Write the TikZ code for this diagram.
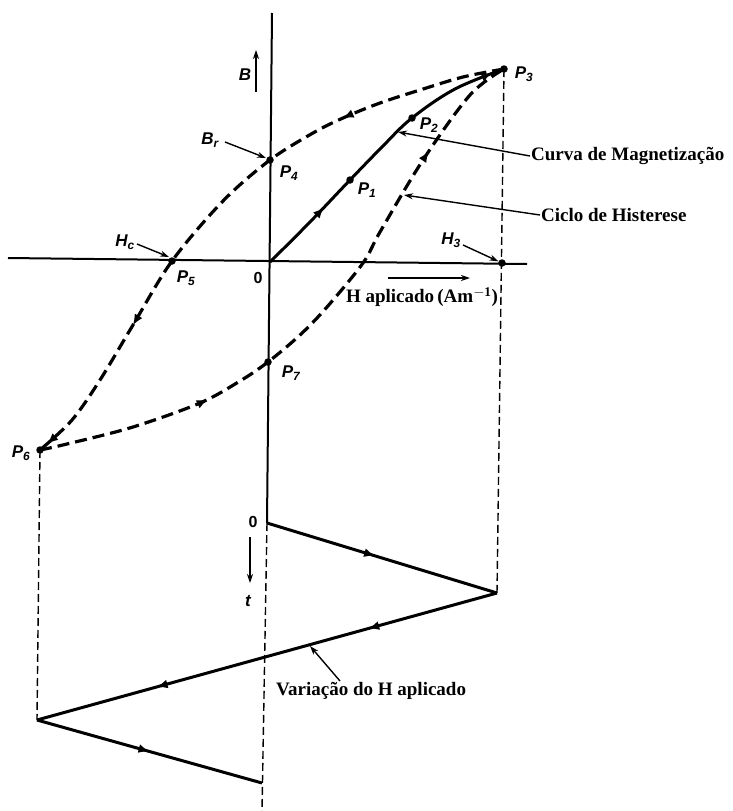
\documentclass[tikz,border=0pt]{standalone}
\usepackage{fontspec}
\setmainfont{Liberation Serif}
\newfontfamily\labfont{Liberation Sans}
\usetikzlibrary{decorations.markings,arrows.meta}
\begin{document}
\begin{tikzpicture}[x=1pt,y=-1pt,
 loopline/.style={line width=3.2pt, dash pattern=on 12pt off 6pt},
 solidc/.style={line width=3pt},
 guide/.style={line width=1.4pt, dash pattern=on 8pt off 4pt},
 axisline/.style={line width=2pt},
 thinarrow/.style={line width=1.4pt,-{Stealth[length=9pt,width=6pt]}},
 dot/.style={circle,fill,inner sep=0pt,minimum size=7.5pt},
 plab/.style={font=\labfont\bfseries\itshape\fontsize{17}{17}\selectfont, inner sep=1pt},
 zero/.style={font=\labfont\bfseries\fontsize{16}{16}\selectfont, inner sep=1pt},
 txt/.style={font=\bfseries\fontsize{19}{19}\selectfont, inner sep=1pt},
 midarrow/.style={postaction={decorate,decoration={markings,mark=at position #1 with {\arrow{Latex[length=11pt,width=9pt]}}}}},
]
\useasboundingbox (0,0) rectangle (732,811);
% key points
\coordinate (O) at (270,262);
\coordinate (Btop) at (272,13);
\coordinate (T0) at (267,523);
\coordinate (Tbot) at (262,811);
\coordinate (Hleft) at (8,258);
\coordinate (Hright) at (527,264);
\coordinate (Z1) at (497,593);
\coordinate (Z2) at (37,720);
\coordinate (Z3) at (262,783);
\node[dot] (P1) at (350,180) {};
\node[dot] (P2) at (412,118) {};
\node[dot] (P3) at (504,69) {};
\node[dot] (P4) at (270,160) {};
\node[dot] (P5) at (172,261) {};
\node[dot] (P6) at (40,450) {};
\node[dot] (P7) at (268,362) {};
\node[dot] (H3) at (502,263) {};

% axes
\draw[axisline] (Btop) -- (T0);
\draw[axisline] (Hleft) -- (Hright);
\draw[guide] (T0) -- (Tbot);
\draw[guide] (P3.center) -- (Z1);
\draw[guide] (P6.center) -- (Z2);

% magnetization curve
\draw[solidc, midarrow=0.25, midarrow=0.96]
  plot[smooth, tension=0.6] coordinates {(270,262) (310,222) (350,180) (382,147) (412,118) (455,89) (504,69)};

% upper branch of hysteresis
\draw[loopline, midarrow=0.27, midarrow=0.75, midarrow=0.985]
  plot[smooth, tension=0.55] coordinates {(504,69) (463,77) (420,90) (380,103) (343,118) (313,133) (270,160) (223,201) (172,261) (133,325) (100,380) (72,420) (40,450)};

% lower branch of hysteresis
\draw[loopline, midarrow=0.28, midarrow=0.82]
  plot[smooth, tension=0.55] coordinates {(40,450) (67,444) (133,427) (200,403) (240,381) (268,362) (300,335) (327,307) (363,263) (380,232) (423,160) (470,95) (504,69)};

% time zigzag
\draw[solidc, midarrow=0.47] (T0) -- (Z1);
\draw[solidc, midarrow=0.28, midarrow=0.74] (Z1) -- (Z2);
\draw[solidc, midarrow=0.5] (Z2) -- (Z3);

% labels
\node[plab] (lP1) at (367,190) {P\textsubscript{1}};
\node[plab] (lP2) at (429,125) {P\textsubscript{2}};
\node[plab] (lP3) at (524,74) {P\textsubscript{3}};
\node[plab] (lP4) at (289,173) {P\textsubscript{4}};
\node[plab] (lP5) at (186,278) {P\textsubscript{5}};
\node[plab] (lP6) at (21,453) {P\textsubscript{6}};
\node[plab] (lP7) at (291,373) {P\textsubscript{7}};
\node[plab] (lB) at (245,75) {B};
\node[plab] (lBr) at (210,140) {B\textsubscript{r}};
\node[plab] (lHc) at (125,242) {H\textsubscript{c}};
\node[plab] (lH3) at (451,240) {H\textsubscript{3}};
\node[plab] (lt) at (248,601) {t};
\node[zero] (l0) at (258,278) {0};
\node[zero] (lt0) at (253,522) {0};

\coordinate (Bs) at (256,92); \coordinate (Be) at (256,50);
\draw[thinarrow] (Bs) -- (Be);
\coordinate (ts) at (250,537); \coordinate (te) at (250,583);
\draw[thinarrow] (ts) -- (te);
\coordinate (Br1) at (225,142); \coordinate (Br2) at (266,158);
\draw[thinarrow] (Br1) -- (Br2);
\coordinate (Hc1) at (137,244); \coordinate (Hc2) at (169,257);
\draw[thinarrow] (Hc1) -- (Hc2);
\coordinate (H31) at (463,245);
\draw[thinarrow] (H31) -- (H3);
\coordinate (Ha1) at (388,278); \coordinate (Ha2) at (470,278);
\draw[thinarrow] (Ha1) -- (Ha2);

\node[txt, anchor=west] (curva) at (530,156) {Curva de Magnetização};
\coordinate (cv) at (398,132);
\draw[thinarrow] (curva.west) -- (cv);
\node[txt, anchor=west] (ciclo) at (540,215) {Ciclo de Histerese};
\coordinate (cc) at (404,195);
\draw[thinarrow] (ciclo.west) -- (cc);
\node[txt] (hap) at (422,297) {H aplicado\,(Am\textsuperscript{$-$1})};
\node[txt, anchor=west] (var) at (275,691) {Variação do H aplicado};
\coordinate (va1) at (340,681); \coordinate (va2) at (310,646);
\draw[thinarrow] (va1) -- (va2);
\end{tikzpicture}
\end{document}
